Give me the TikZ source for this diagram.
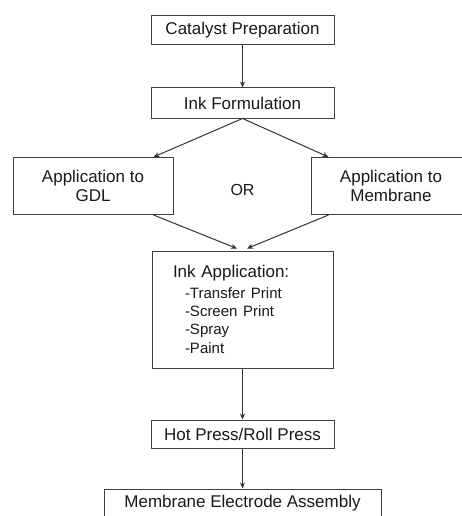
\documentclass[tikz,border=0pt]{standalone}
\usepackage{fontspec}
\setmainfont{Liberation Sans}
\usetikzlibrary{calc,arrows.meta}
\begin{document}
\begin{tikzpicture}[
    node distance=72.5pt,
    block/.style={
        rectangle,
        draw=black!75,
        fill=white,
        line width=1pt,
        minimum width=183pt,
        minimum height=29pt,
        inner sep=0pt,
        align=center,
        text=black!90,
        font=\fontsize{17}{19.5}\selectfont
    },
    side/.style={
        block,
        minimum width=160pt,
        minimum height=57pt
    },
    steps/.style={
        block,
        minimum width=181pt,
        minimum height=117pt,
        text width=139pt,
        align=left
    },
    arrow/.style={
        ->,
        >={Stealth[length=6pt,width=5pt]},
        line width=1pt,
        black!80
    }
]

\useasboundingbox (0,0) rectangle (461pt,-516pt);

% --- Ink preparation ---
\node[block] (prep) at (242.5pt,-30.5pt) {Catalyst Preparation};
\node[block, below of=prep, minimum height=30pt] (inkform) {Ink Formulation};

\draw[arrow] (prep) -- (inkform);

% --- Two routes ---
\node[text=black!90, font=\fontsize{16}{19}\selectfont, below of=inkform, node distance=87pt] (ortext) {OR};
\node[side, below of=inkform, node distance=83pt, xshift=-149.5pt] (gdl) {Application to\\GDL};
\node[side, below of=inkform, node distance=83pt, xshift=148.5pt] (memb) {Application to\\Membrane};

\draw[arrow] (inkform.south) -- ($(gdl.north east)+(-20pt,0)$);
\draw[arrow] (inkform.south) -- ($(memb.north west)+(18pt,0)$);

% --- Ink application ---
\node[steps, below of=inkform, node distance=206.5pt] (inkapp) {%
    Ink Application:\\[3pt]
    {\fontsize{15}{18}\selectfont
    \hspace*{12pt}-Transfer Print\\
    \hspace*{12pt}-Screen Print\\
    \hspace*{12pt}-Spray\\
    \hspace*{12pt}-Paint}};

\draw[arrow] ($(gdl.south east)+(-20pt,0)$) -- ($(inkapp.north)+(-5.5pt,2pt)$);
\draw[arrow] ($(memb.south west)+(18pt,0)$) -- ($(inkapp.north)+(4.5pt,2pt)$);

% --- Pressing ---
\node[block, below of=inkapp, node distance=124.5pt, minimum height=28pt] (press) {Hot Press/Roll Press};
\node[block, below of=press, node distance=69.5pt, minimum width=277pt] (mea) {Membrane Electrode Assembly};

\draw[arrow] (inkapp) -- (press);
\draw[arrow] (press) -- (mea);

\end{tikzpicture}
\end{document}
